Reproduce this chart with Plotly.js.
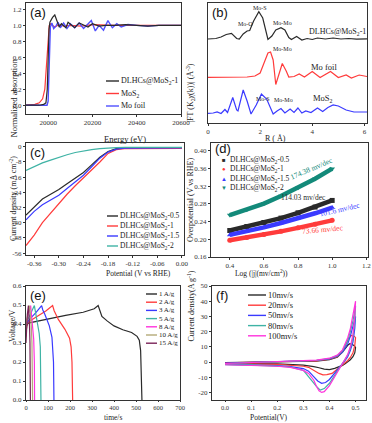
<!DOCTYPE html>
<html>
<head>
<meta charset="utf-8">
<script src="https://cdn.plot.ly/plotly-3.0.1.min.js"></script>
<style>
  html, body { margin: 0; padding: 0; background: #fff; }
  #chart { width: 372px; height: 423px; }
</style>
</head>
<body>
<div id="chart"></div>
<script>
// ---- (a) XANES ----
const xanesDlhcE = [19900, 19960, 19980, 19990, 19996, 20000, 20004, 20008, 20014, 20020, 20030, 20040, 20050, 20060, 20070, 20080, 20090, 20100, 20120, 20140, 20160, 20180, 20200, 20230, 20260, 20300, 20350, 20400, 20450, 20500, 20550, 20600];
const xanesDlhcY = [0, 0, 0.01, 0.03, 0.2, 0.65, 0.95, 1.04, 1.07, 1.1, 1.13, 1.05, 0.98, 1.02, 1.0, 0.97, 1.04, 1.02, 0.97, 1.03, 1.0, 0.98, 1.02, 0.99, 1.0, 1.0, 1.01, 1.0, 0.99, 1.0, 1.0, 1.0];
const xanesMoS2E = [19900, 19940, 19960, 19975, 19985, 19990, 19995, 20000, 20005, 20010, 20020, 20030, 20050, 20070, 20100, 20150, 20200, 20300, 20400, 20500, 20600];
const xanesMoS2Y = [0, 0.01, 0.03, 0.08, 0.2, 0.4, 0.7, 0.92, 1.0, 1.02, 1.0, 0.98, 1.01, 0.99, 1.0, 0.99, 1.01, 1.0, 1.0, 1.0, 1.0];
const xanesFoilE = [19900, 19995, 20000, 20004, 20007, 20010, 20017, 20025, 20035, 20045, 20055, 20070, 20085, 20100, 20120, 20140, 20160, 20180, 20195, 20213, 20230, 20250, 20270, 20290, 20310, 20330, 20360, 20400, 20450, 20500, 20600];
const xanesFoilY = [0, 0, 0.05, 0.4, 0.85, 0.98, 1.03, 0.96, 0.99, 1.04, 0.97, 1.03, 0.96, 1.02, 0.97, 1.03, 0.96, 1.02, 1.06, 0.93, 1.0, 0.94, 1.06, 0.97, 1.02, 0.98, 1.01, 1.0, 0.99, 1.0, 1.0];

// ---- (b) FT-EXAFS (curves stacked with offsets) ----
const ftDlhcR = [0, 0.3, 0.5, 0.7, 0.9, 1.1, 1.2, 1.35, 1.5, 1.6, 1.75, 1.95, 2.1, 2.3, 2.45, 2.6, 2.8, 2.95, 3.1, 3.2, 3.4, 3.6, 3.8, 4.0, 4.2, 4.5, 4.8, 5.1, 5.4, 5.7, 6.1];
const ftDlhcY = [8.4, 8.45, 8.6, 8.85, 8.97, 8.45, 8.4, 8.9, 9.2, 9.25, 10.2, 11.13, 10.5, 8.35, 8.7, 9.3, 9.53, 9.3, 8.55, 8.35, 8.65, 8.3, 8.45, 8.35, 8.5, 8.4, 8.5, 8.4, 8.45, 8.38, 8.42];
const ftFoilR = [0, 0.5, 1.0, 1.5, 1.8, 2.0, 2.15, 2.3, 2.4, 2.5, 2.6, 2.7, 2.85, 3.0, 3.1, 3.3, 3.5, 3.7, 4.0, 4.3, 4.7, 5.0, 5.3, 5.5, 5.8, 6.1];
const ftFoilY = [4.57, 4.6, 4.62, 4.6, 4.7, 5.0, 6.0, 7.0, 7.1, 6.3, 3.85, 4.8, 5.95, 5.2, 4.6, 4.65, 4.9, 4.6, 5.15, 4.55, 5.15, 4.55, 4.8, 4.5, 4.8, 4.65];
const ftMoS2R = [0, 0.2, 0.35, 0.5, 0.65, 0.75, 0.95, 1.1, 1.15, 1.35, 1.5, 1.65, 1.85, 2.05, 2.25, 2.5, 2.65, 2.8, 2.95, 3.15, 3.3, 3.45, 3.6, 3.75, 3.95, 4.2, 4.4, 4.6, 4.8, 5.0, 5.3, 5.6, 6.1];
const ftMoS2Y = [0.97, 1.0, 1.1, 0.95, 1.35, 1.05, 2.55, 1.3, 1.2, 3.3, 2.2, 0.9, 1.8, 2.9, 2.4, 0.9, 1.2, 1.45, 1.0, 1.4, 1.05, 1.5, 1.0, 1.2, 1.05, 1.5, 1.15, 1.55, 1.8, 1.7, 1.3, 1.1, 1.1];

// ---- (c) LSV ----
const lsvPotential = [-0.38, -0.36, -0.34, -0.32, -0.30, -0.28, -0.26, -0.24, -0.22, -0.20, -0.18, -0.16, -0.14, -0.10, -0.05, 0.0];
const lsv05 = [-36, -31.5, -27.5, -25, -22.5, -19.5, -16.5, -13.5, -9.5, -5.5, -2.5, -1.0, -0.6, -0.5, -0.5, -0.5];
const lsv1 = [-52, -46.5, -40, -35, -29.5, -25, -20.5, -16.5, -12.5, -8, -3.5, -1.5, -1.0, -0.9, -0.9, -0.9];
const lsv15 = [-38.5, -34, -30.5, -28, -25.5, -22, -18.5, -15, -10.5, -6, -2.8, -1.2, -0.7, -0.6, -0.6, -0.6];
const lsv2 = [-12.5, -10.5, -8.5, -7, -5.5, -4.2, -3.0, -2.2, -1.5, -1.0, -0.6, -0.4, -0.3, -0.3, -0.3, -0.3];

// ---- (d) Tafel ----
const tafelLog = [0.4, 0.5, 0.6, 0.7, 0.8, 0.9, 1.0];
const tafel05 = [0.220, 0.229, 0.238, 0.248, 0.260, 0.273, 0.288];
const tafel1 = [0.198, 0.204, 0.211, 0.218, 0.226, 0.234, 0.243];
const tafel15 = [0.210, 0.218, 0.227, 0.237, 0.247, 0.259, 0.272];
const tafel2 = [0.255, 0.267, 0.281, 0.298, 0.317, 0.337, 0.360];
const tafelSlopes = ['114.03 mv/dec', '73.66 mv/dec', '101.6 mv/dec', '174.38 mv/dec'];

// ---- (e) GCD ----
const gcdLabels = ['1 A/g', '2 A/g', '3 A/g', '5 A/g', '8 A/g', '10 A/g', '15 A/g'];
const gcdT = [
  [0, 3, 10, 50, 110, 180, 260, 310, 328, 335, 345, 370, 400, 440, 480, 505, 515, 521, 524, 527],
  [0, 5, 30, 60, 90, 121, 128, 147, 177, 198, 205, 209, 212],
  [0, 3, 20, 45, 71, 76, 86, 106, 118, 122, 125, 127],
  [0, 2, 15, 38, 42, 50, 60, 65, 67, 68],
  [0, 2, 10, 21, 24, 30, 35, 38, 39],
  [0, 2, 8, 16, 19, 24, 27, 29, 30],
  [0, 2, 6, 11, 13, 16, 18, 19, 20],
];
const gcdV = [
  [0.34, 0.39, 0.405, 0.415, 0.428, 0.445, 0.462, 0.48, 0.497, 0.47, 0.44, 0.415, 0.39, 0.37, 0.355, 0.335, 0.315, 0.26, 0.15, 0],
  [0.36, 0.405, 0.425, 0.445, 0.468, 0.497, 0.47, 0.424, 0.372, 0.325, 0.28, 0.2, 0],
  [0.36, 0.405, 0.43, 0.46, 0.497, 0.475, 0.45, 0.39, 0.33, 0.28, 0.2, 0],
  [0.36, 0.41, 0.44, 0.497, 0.47, 0.42, 0.35, 0.28, 0.18, 0],
  [0.34, 0.41, 0.45, 0.497, 0.46, 0.4, 0.32, 0.2, 0],
  [0.33, 0.41, 0.45, 0.497, 0.46, 0.39, 0.3, 0.15, 0],
  [0.3, 0.4, 0.45, 0.497, 0.46, 0.39, 0.3, 0.15, 0],
];

// ---- (f) CV ----
const cvLabels = ['10mv/s', '20mv/s', '50mv/s', '80mv/s', '100mv/s'];
const cvE = [
  [0, 0.1, 0.2, 0.3, 0.35, 0.4, 0.43, 0.45, 0.46, 0.47, 0.478, 0.488, 0.496, 0.5, 0.497, 0.49, 0.48, 0.47, 0.46, 0.45, 0.44, 0.42, 0.40, 0.38, 0.36, 0.34, 0.3, 0.25, 0.2, 0.1, 0],
  [0, 0.1, 0.2, 0.3, 0.35, 0.4, 0.43, 0.45, 0.465, 0.475, 0.485, 0.495, 0.5, 0.497, 0.49, 0.48, 0.47, 0.46, 0.45, 0.43, 0.41, 0.39, 0.375, 0.36, 0.34, 0.32, 0.3, 0.25, 0.2, 0.1, 0],
  [0, 0.1, 0.2, 0.3, 0.35, 0.4, 0.43, 0.45, 0.47, 0.48, 0.49, 0.5, 0.497, 0.49, 0.48, 0.47, 0.46, 0.45, 0.44, 0.42, 0.40, 0.385, 0.37, 0.355, 0.34, 0.32, 0.3, 0.25, 0.2, 0.1, 0],
  [0, 0.1, 0.2, 0.3, 0.35, 0.4, 0.43, 0.45, 0.47, 0.48, 0.49, 0.5, 0.497, 0.49, 0.48, 0.47, 0.46, 0.45, 0.44, 0.42, 0.40, 0.38, 0.365, 0.35, 0.34, 0.32, 0.3, 0.25, 0.2, 0.1, 0],
  [0, 0.1, 0.2, 0.3, 0.35, 0.4, 0.43, 0.45, 0.47, 0.48, 0.49, 0.5, 0.497, 0.49, 0.48, 0.47, 0.46, 0.45, 0.44, 0.42, 0.40, 0.38, 0.37, 0.36, 0.35, 0.34, 0.32, 0.3, 0.25, 0.2, 0.1, 0],
];
const cvJ = [
  [-0.4, -0.2, 0, 0.3, 0.6, 1.5, 3.2, 6.5, 9, 11, 12, 11.5, 10.5, 9.5, 6, 3.5, 1.5, 0, -1.2, -2.2, -3, -4.2, -5, -4.7, -3.8, -3, -2, -1.5, -1.2, -1, -0.8],
  [-0.6, -0.3, 0, 0.4, 0.8, 1.8, 3.5, 7, 12, 16, 17.5, 17, 16, 11, 6, 3, 1, -0.5, -2, -5, -7.5, -8.3, -8.5, -7.5, -5.5, -3.5, -2.8, -2, -1.6, -1.2, -1],
  [-0.8, -0.4, 0, 0.5, 1, 2, 3.8, 6.5, 12, 17, 23, 30, 22, 13, 7.5, 3.5, 1, -1, -3, -7.5, -11.5, -13.5, -14, -12.5, -9.5, -6, -4.3, -3, -2.4, -1.8, -1.5],
  [-1.0, -0.5, 0, 0.6, 1.1, 2.3, 4.2, 7.5, 14, 20, 27, 37, 27, 16, 9, 4.5, 1.5, -1, -3.5, -9, -14, -17.5, -18.5, -16, -14, -10, -5.5, -3.3, -2.7, -2.1, -1.7],
  [-1.0, -0.5, 0, 0.7, 1.2, 2.5, 4.5, 8, 16, 22, 30, 40, 30, 18, 10, 5, 2, -1, -4, -10, -15.5, -19.5, -20, -19, -16, -12, -7.5, -5.5, -3.5, -2.8, -2.2, -1.8],
];

const SERIF = 'Liberation Serif, Times New Roman, serif';
const SANS = 'Liberation Sans, Arial, sans-serif';
const W = 372, H = 423;
const INK = '#333';

const BLACK = '#2a2a2a', RED = '#ff3b3b', BLUE = '#3a3aff', TEAL = '#3fb3a5', MAGENTA = '#ff33dd';
const HER_NAMES = ['DLHCs@MoS<sub>2</sub>-0.5', 'DLHCs@MoS<sub>2</sub>-1', 'DLHCs@MoS<sub>2</sub>-1.5', 'DLHCs@MoS<sub>2</sub>-2'];
const HER_COLORS = [BLACK, RED, BLUE, TEAL];

// pixel boxes [left, right, top, bottom] of each panel frame
const BOXES = [[26, 181, 3, 114], [208, 367, 3, 123], [26, 184, 143, 255], [211, 368, 143, 257], [26, 180, 286, 400], [212, 366, 286, 400]];

const shapes = [];
const annotations = [];
const traces = [];

function px(x) { return x / W; }
function py(y) { return 1 - y / H; }

function axisBase(extra) {
  return Object.assign({
    showline: true, mirror: true, linecolor: INK, linewidth: 1,
    ticks: 'outside', ticklen: 2, tickcolor: INK, showgrid: false, zeroline: false,
    tickfont: { family: SERIF, size: 7, color: INK },
  }, extra);
}

function text(x, y, str, size, opts) {
  annotations.push(Object.assign({
    xref: 'paper', yref: 'paper', x: px(x), y: py(y), text: str, showarrow: false, borderpad: 0,
    font: { family: SERIF, size: size, color: '#222' },
  }, opts || {}));
}

function lineLegend(names, colors, left, top, step, size, len) {
  names.forEach((name, i) => {
    const y = top + i * step;
    shapes.push({ type: 'line', xref: 'paper', yref: 'paper', x0: px(left), x1: px(left + len), y0: py(y), y1: py(y), line: { color: colors[i], width: 1.4 } });
    text(left + len + 1, y, name, size, { xanchor: 'left', yanchor: 'middle' });
  });
}

function line(x, y, color, axisN, width) {
  const sfx = axisN === 1 ? '' : String(axisN);
  traces.push({ x, y, type: 'scatter', mode: 'lines', line: { color, width: width || 1.2 }, xaxis: 'x' + sfx, yaxis: 'y' + sfx, showlegend: false, hoverinfo: 'skip' });
}

// (a)
line(xanesMoS2E, xanesMoS2Y, RED, 1);
line(xanesFoilE, xanesFoilY, '#5050ff', 1, 1.4);
line(xanesDlhcE, xanesDlhcY, BLACK, 1);
// (b)
line(ftDlhcR, ftDlhcY, BLACK, 2);
line(ftFoilR, ftFoilY, RED, 2);
line(ftMoS2R, ftMoS2Y, BLUE, 2);
// (c)
[lsv05, lsv1, lsv15, lsv2].forEach((s, i) => line(lsvPotential, s, HER_COLORS[i], 3));
// (d)
const TAFEL_SYMBOLS = ['square', 'circle', 'triangle-up', 'triangle-down'];
const TAFEL_COLORS = [BLACK, RED, BLUE, '#138a7a'];
[tafel05, tafel1, tafel15, tafel2].forEach((s, i) => {
  traces.push({ x: tafelLog, y: s, type: 'scatter', mode: 'lines+markers', xaxis: 'x4', yaxis: 'y4', showlegend: false, hoverinfo: 'skip',
    line: { color: TAFEL_COLORS[i], width: 4.5 }, marker: { color: TAFEL_COLORS[i], size: 5, symbol: TAFEL_SYMBOLS[i] } });
});
// (e)
const GCD_COLORS = [BLACK, RED, BLUE, TEAL, MAGENTA, '#b3aa78', '#7a2358'];
gcdT.forEach((t, i) => line(t, gcdV[i], GCD_COLORS[i], 5));
// (f)
const CV_COLORS = [BLACK, RED, BLUE, TEAL, MAGENTA];
cvE.forEach((e, i) => line(e, cvJ[i], CV_COLORS[i], 6));

function ticks(vals, digits) {
  return { tickmode: 'array', tickvals: vals, ticktext: vals.map(v => digits === null ? String(v) : v.toFixed(digits)) };
}

const layout = {
  width: W, height: H,
  margin: { l: 0, r: 0, t: 0, b: 0 },
  paper_bgcolor: '#fff', plot_bgcolor: '#fff',
  showlegend: false,
  font: { family: SERIF, color: INK },
};

const axes = [
  [axisBase(Object.assign({ range: [19900, 20600] }, ticks([20000, 20200, 20400, 20600], null))),
   axisBase(Object.assign({ range: [-0.11, 1.28] }, ticks([0, 0.2, 0.4, 0.6, 0.8, 1.0, 1.2], 1)))],
  [axisBase(Object.assign({ range: [0, 6.1] }, ticks([0, 2, 4, 6], null))),
   axisBase({ range: [0, 12], showticklabels: false, ticks: '' })],
  [axisBase(Object.assign({ range: [-0.38, 0.005] }, ticks([-0.36, -0.30, -0.24, -0.18, -0.12, -0.06, 0.00], 2))),
   axisBase(Object.assign({ range: [-57, 2] }, ticks([0, -8, -16, -24, -32, -40, -48, -56], null)))],
  [axisBase(Object.assign({ range: [0.29, 1.21] }, ticks([0.4, 0.6, 0.8, 1.0, 1.2], 1))),
   axisBase(Object.assign({ range: [0.16, 0.418] }, ticks([0.16, 0.20, 0.24, 0.28, 0.32, 0.36, 0.40], 2)))],
  [axisBase(Object.assign({ range: [0, 700], ticklen: 1, tickfont: { family: SERIF, size: 6.5, color: INK } }, ticks([0, 100, 200, 300, 400, 500, 600, 700], null))),
   axisBase(Object.assign({ range: [0, 0.6] }, ticks([0, 0.1, 0.2, 0.3, 0.4, 0.5, 0.6], 1)))],
  [axisBase(Object.assign({ range: [-0.05, 0.54], ticklen: 1, tickfont: { family: SERIF, size: 6.5, color: INK } }, ticks([0, 0.1, 0.2, 0.3, 0.4, 0.5], 1))),
   axisBase(Object.assign({ range: [-25, 50] }, ticks([-20, -10, 0, 10, 20, 30, 40, 50], null)))],
];

axes.forEach(([xa, ya], i) => {
  const n = i + 1, sfx = n === 1 ? '' : String(n);
  const [l, r, t, b] = BOXES[i];
  xa.domain = [px(l), px(r)]; xa.anchor = 'y' + sfx;
  ya.domain = [py(b), py(t)]; ya.anchor = 'x' + sfx;
  layout['xaxis' + sfx] = xa;
  layout['yaxis' + sfx] = ya;
  // panel letter
  const top = i === 3 ? t - 3 : t + 1;
  text(l + 3, top, '(' + 'abcdef'[i] + ')', 13, { xanchor: 'left', yanchor: 'top', font: { family: SANS, size: 13, color: '#111' } });
});

// axis titles
const TITLE = 8;
text(7, 58, 'Normalized absorption', 8.5, { textangle: -90 });
text(103, 133, 'Energy (eV)', 8.5);
text(190, 63, '|FT (K<sub>2</sub>χ(k))| (Å<sup>-3</sup>)', TITLE, { textangle: -90 });
text(287, 133, 'R ( Å)', TITLE);
text(7, 199, 'Current density (mA cm<sup>-2</sup>)', TITLE, { textangle: -90 });
text(105, 273, 'Potential (V vs RHE)', 7.5);
text(190, 200, 'Overpotential (V vs RHE)', TITLE, { textangle: -90 });
text(289, 273, 'Log (|j|(mv/cm<sup>2</sup>))', 7.5);
text(7, 343, 'Voltage/V', TITLE, { textangle: -90 });
text(103, 423, 'time/s', 7.5, { yanchor: 'bottom' });
text(190, 343, 'Current density(A g<sup>-1</sup>)', TITLE, { textangle: -90 });
text(289, 423, 'Potential(V)', 7.5, { yanchor: 'bottom' });

// (a) legend
lineLegend(['DLHCs@MoS<sub>2</sub>-1', 'MoS<sub>2</sub>', 'Mo foil'], [BLACK, RED, '#5050ff'], 106, 81, 12.5, 8, 13);
// (c) legend
lineLegend(HER_NAMES, HER_COLORS, 107, 216, 10, 7.5, 11);
// (e) legend
lineLegend(gcdLabels, GCD_COLORS, 146, 294, 8.2, 7, 11);
// (f) legend
lineLegend(cvLabels, CV_COLORS, 248, 295, 10.2, 8.5, 18);
// (d) legend with marker glyphs
['■', '●', '▲', '▼'].forEach((g, i) => {
  const y = 159.5 + i * 9.6;
  text(224, y, g, 6, { font: { family: SANS, size: 6, color: TAFEL_COLORS[i] } });
  text(229, y, HER_NAMES[i], 7.5, { xanchor: 'left', yanchor: 'middle' });
});

// (b) peak labels and sample names
const B_SMALL = { family: SERIF, size: 6, color: '#222' };
const bLabels = [
  [2.0, 11.5, 'Mo-S', B_SMALL], [1.43, 9.95, 'Mo-O', B_SMALL], [2.87, 9.97, 'Mo-Mo', B_SMALL],
  [2.87, 7.37, 'Mo-Mo', B_SMALL], [2.1, 2.45, 'Mo-S', B_SMALL], [2.9, 2.3, 'Mo-Mo', B_SMALL],
  [4.95, 9.15, 'DLHCs@MoS<sub>2</sub>-1', { family: SERIF, size: 8, color: '#222' }],
  [4.45, 5.65, 'Mo foil', { family: SERIF, size: 8.5, color: '#222' }],
  [4.4, 2.45, 'MoS<sub>2</sub>', { family: SERIF, size: 8.5, color: '#222' }],
];
bLabels.forEach(([x, y, s, f]) => annotations.push({ xref: 'x2', yref: 'y2', x, y, text: s, showarrow: false, font: f }));

// (d) Tafel slope labels
const slopePos = [[0.83, 0.295, 0, BLACK], [0.945, 0.222, -5, RED], [1.045, 0.268, -13, BLUE], [0.88, 0.36, -23, '#138a7a']];
slopePos.forEach(([x, y, ang, c], i) => annotations.push({ xref: 'x4', yref: 'y4', x, y, text: tafelSlopes[i], textangle: ang, showarrow: false, font: { family: SERIF, size: 7.5, color: c } }));

layout.shapes = shapes;
layout.annotations = annotations;

Plotly.newPlot('chart', traces, layout, { displayModeBar: false, staticPlot: true });
</script>
</body>
</html>
